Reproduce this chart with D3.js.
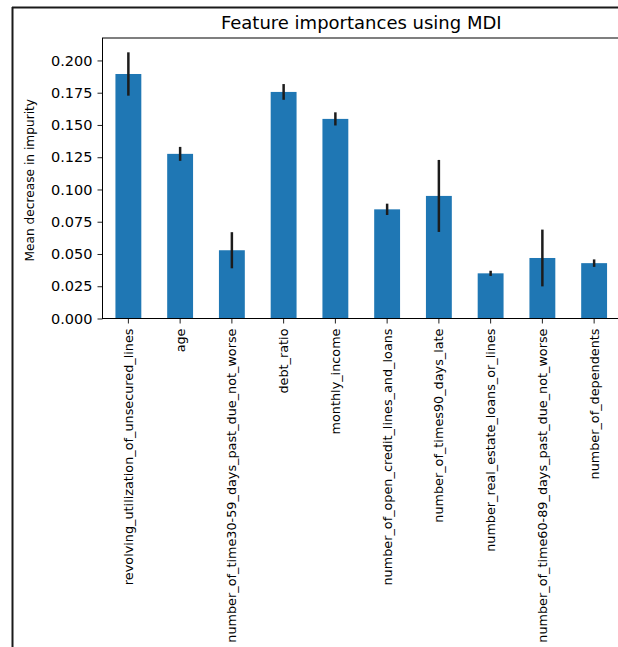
<!DOCTYPE html>
<html>
<head>
<meta charset="utf-8">
<script src="https://cdn.jsdelivr.net/npm/d3@7"></script>
<style>
  html, body { margin: 0; padding: 0; background: #fff; }
  svg { display: block; }
  text { font-family: "DejaVu Sans", sans-serif; fill: #000; }
</style>
</head>
<body>
<script>
const categories = [
  "revolving_utilization_of_unsecured_lines",
  "age",
  "number_of_time30-59_days_past_due_not_worse",
  "debt_ratio",
  "monthly_income",
  "number_of_open_credit_lines_and_loans",
  "number_of_times90_days_late",
  "number_real_estate_loans_or_lines",
  "number_of_time60-89_days_past_due_not_worse",
  "number_of_dependents"
];
const importances = [0.1895, 0.1276, 0.0529, 0.1756, 0.1547, 0.0846, 0.0950, 0.0350, 0.0469, 0.0429];
const stdErrors   = [0.0168, 0.0054, 0.0140, 0.0061, 0.0051, 0.0044, 0.0279, 0.0020, 0.0220, 0.0029];
const yTicks = [0, 0.025, 0.05, 0.075, 0.1, 0.125, 0.15, 0.175, 0.2];
const titleText = "Feature importances using MDI";
const yLabelText = "Mean decrease in impurity";

const W = 618, H = 647;
const mLeft = 102.5, mRight = 620, mTop = 38, mBottom = 318.5;

const svg = d3.select("body").append("svg").attr("width", W).attr("height", H);

// outer frame (screenshot border)
svg.append("line").attr("x1", 12).attr("x2", W).attr("y1", 7.5).attr("y2", 7.5)
  .attr("stroke", "#1a1a1a").attr("stroke-width", 2);
svg.append("line").attr("x1", 12.5).attr("x2", 12.5).attr("y1", 7).attr("y2", H)
  .attr("stroke", "#1a1a1a").attr("stroke-width", 2);

const x = d3.scaleBand().domain(categories).range([mLeft, mRight])
  .paddingInner(0.5).paddingOuter(0.25);
const y = d3.scaleLinear().domain([0, 0.2174]).range([mBottom, mTop]);

// bars
svg.append("g").selectAll("rect").data(categories).join("rect")
  .attr("x", d => x(d))
  .attr("width", x.bandwidth())
  .attr("y", (d, i) => y(importances[i]))
  .attr("height", (d, i) => y(0) - y(importances[i]))
  .attr("fill", "#1f77b4");

// error bars
svg.append("g").selectAll("line").data(categories).join("line")
  .attr("x1", d => x(d) + x.bandwidth() / 2)
  .attr("x2", d => x(d) + x.bandwidth() / 2)
  .attr("y1", (d, i) => y(importances[i] + stdErrors[i]))
  .attr("y2", (d, i) => y(importances[i] - stdErrors[i]))
  .attr("stroke", "#1c1c1c").attr("stroke-width", 2.5);

// y axis
const yAxis = d3.axisLeft(y).tickValues(yTicks).tickFormat(d3.format(".3f"))
  .tickSize(5).tickPadding(5);
const gy = svg.append("g").attr("transform", `translate(${mLeft},0)`).call(yAxis);
gy.select(".domain").remove();
gy.selectAll(".tick line").attr("stroke", "#222").attr("stroke-width", 1);
gy.selectAll(".tick text").attr("font-size", "14.5px").attr("fill", "#111")
  .style("font-family", "DejaVu Sans");

// x axis
const xAxis = d3.axisBottom(x).tickSize(5).tickPadding(5);
const gx = svg.append("g").attr("transform", `translate(0,${mBottom})`).call(xAxis);
gx.select(".domain").remove();
gx.selectAll(".tick line").attr("stroke", "#222").attr("stroke-width", 1);
gx.selectAll(".tick text")
  .attr("font-size", "12.8px").attr("fill", "#111")
  .style("font-family", "DejaVu Sans")
  .attr("transform", "rotate(-90)")
  .attr("x", -10).attr("y", 0).attr("dy", "0.35em")
  .attr("text-anchor", "end");

// spines
svg.append("rect").attr("x", mLeft).attr("y", mTop)
  .attr("width", mRight - mLeft).attr("height", mBottom - mTop)
  .attr("fill", "none").attr("stroke", "#000").attr("stroke-width", 1);

// title
svg.append("text").attr("x", (mLeft + mRight) / 2).attr("y", 29)
  .attr("text-anchor", "middle").attr("font-size", "18px").attr("fill", "#111")
  .text(titleText);

// y label
svg.append("text")
  .attr("transform", `translate(34,${(mTop + mBottom) / 2 + 2}) rotate(-90)`)
  .attr("text-anchor", "middle").attr("font-size", "12.2px").attr("fill", "#111")
  .text(yLabelText);
</script>
</body>
</html>
